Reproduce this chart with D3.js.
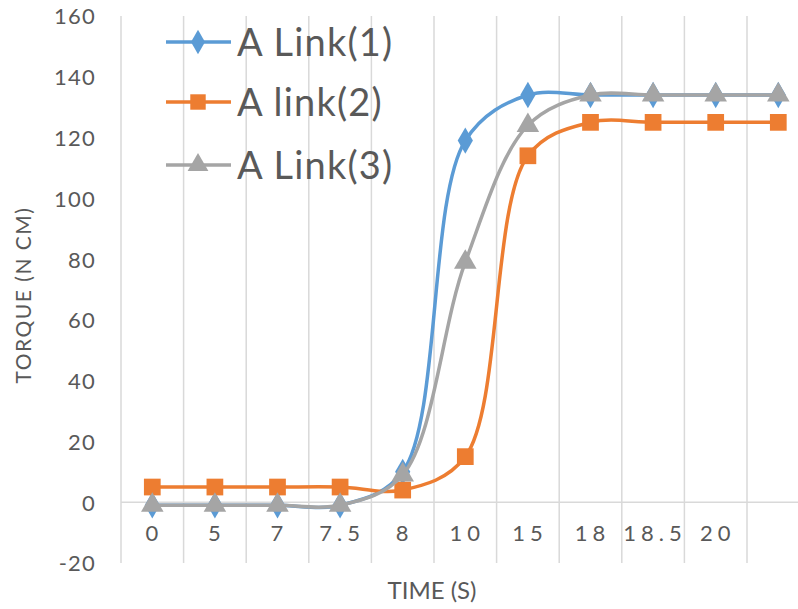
<!DOCTYPE html>
<html>
<head>
<meta charset="utf-8">
<script src="https://cdn.jsdelivr.net/npm/d3@7"></script>
<style>
  html, body { margin: 0; padding: 0; background: #fff; }
  svg { display: block; }
  text { font-family: Lato, "Open Sans", sans-serif; fill: #595959; }
</style>
</head>
<body>
<script>
const categories = ["0", "5", "7", "7.5", "8", "10", "15", "18", "18.5", "20", ""];
const link1 = [-1, -1, -1, -1, 10, 119, 134, 134, 134, 134, 134];
const link2 = [5, 5, 5, 5, 4, 15, 114, 125, 125, 125, 125];
const link3 = [-1, -1, -1, -1, 9, 79, 124, 134, 134, 134, 134];
const yTicks = [-20, 0, 20, 40, 60, 80, 100, 120, 140, 160];
const seriesNames = ["A Link(1)", "A link(2)", "A Link(3)"];

const W = 798, H = 609;
const svg = d3.select("body").append("svg").attr("width", W).attr("height", H);

const x = d3.scaleBand().domain(d3.range(categories.length)).range([121, 121 + 62.6 * categories.length]).paddingInner(0).paddingOuter(0);
const y = d3.scaleLinear().domain([-20, 160]).range([563, 16]);

// vertical gridlines at category boundaries
svg.append("g").selectAll("line").data(d3.range(categories.length)).join("line")
  .attr("x1", i => x(i)).attr("x2", i => x(i))
  .attr("y1", y(160)).attr("y2", y(-20))
  .attr("stroke", "#d9d9d9").attr("stroke-width", 1.5);

// zero axis line
svg.append("line").attr("x1", x(0)).attr("x2", W).attr("y1", y(0)).attr("y2", y(0))
  .attr("stroke", "#d9d9d9").attr("stroke-width", 1.5);

// y axis tick labels
const yAxis = d3.axisLeft(y).tickValues(yTicks).tickFormat(d => String(d)).tickSize(0).tickPadding(0);
const gy = svg.append("g").attr("transform", "translate(96,0)").call(yAxis);
gy.select(".domain").remove();
gy.selectAll("text").style("font-size", "22px").style("letter-spacing", "1.2px")
  .style("font-family", "Lato, sans-serif")
  .attr("fill", "#595959").attr("dy", "0.36em");

// category labels
svg.append("g").selectAll("text").data(categories).join("text")
  .attr("x", (d, i) => x(i) + x.bandwidth() / 2 + 2)
  .attr("y", 533).attr("dy", "0.36em")
  .attr("text-anchor", "middle")
  .style("font-size", "22px").style("letter-spacing", "5px")
  .text(d => d);

// axis titles
svg.append("text").attr("x", 432).attr("y", 590).attr("dy", "0.36em")
  .attr("text-anchor", "middle").style("font-size", "24px").text("TIME (S)");
svg.append("text").attr("transform", "translate(23,295) rotate(-90)").attr("dy", "0.36em")
  .attr("text-anchor", "middle").style("font-size", "21px").style("letter-spacing", "1.5px").text("TORQUE (N CM)");

const colors = ["#5B9BD5", "#ED7D31", "#A5A5A5"];
const allSeries = [link1, link2, link3];
const shapes = [d3.symbolDiamond, d3.symbolSquare, d3.symbolTriangle];
const sizes = [200, 280, 220];

const line = d3.line()
  .x((d, i) => x(i) + x.bandwidth() / 2)
  .y(d => y(d))
  .curve(d3.curveCatmullRom.alpha(0.5));

allSeries.forEach((vals, s) => {
  const g = svg.append("g");
  g.append("path").datum(vals).attr("d", line)
    .attr("fill", "none").attr("stroke", colors[s]).attr("stroke-width", 3.5);
  g.selectAll("path.m").data(vals).join("path").attr("class", "m")
    .attr("transform", (d, i) => `translate(${x(i) + x.bandwidth() / 2},${y(d)})`)
    .attr("d", d3.symbol().type(shapes[s]).size(sizes[s]))
    .attr("fill", colors[s]);
});

// legend
const legY = [42, 102, 165];
const leg = svg.append("g");
seriesNames.forEach((name, s) => {
  leg.append("line").attr("x1", 166).attr("x2", 231).attr("y1", legY[s]).attr("y2", legY[s])
    .attr("stroke", colors[s]).attr("stroke-width", 3.5);
  leg.append("path").attr("transform", `translate(198,${legY[s]})`)
    .attr("d", d3.symbol().type(shapes[s]).size(sizes[s] * 0.85)).attr("fill", colors[s]);
  leg.append("text").attr("x", 237).attr("y", legY[s]).attr("dy", "0.36em")
    .style("font-size", "38px").style("letter-spacing", "1.2px").attr("fill", "#595959").text(name);
});
</script>
</body>
</html>
